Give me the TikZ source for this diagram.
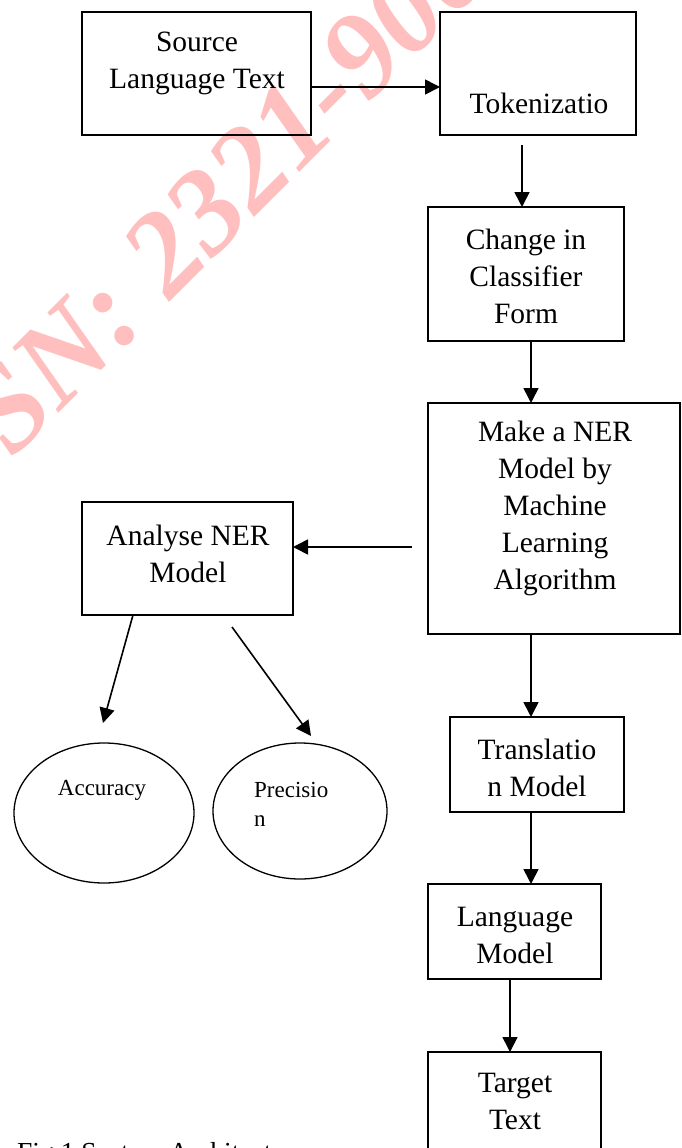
\documentclass[tikz,border=0pt]{standalone}
\usepackage{fontspec}
\setmainfont{Liberation Serif}
\usetikzlibrary{arrows.meta,shapes.geometric}
\begin{document}
\begin{tikzpicture}[x=1pt,y=-1pt,
  box/.style={draw,line width=1.9pt,inner sep=0pt,outer sep=0pt},
  lbl/.style={align=center,font=\fontsize{29.5}{37}\selectfont,inner sep=0pt},
  slbl/.style={align=left,font=\fontsize{23}{29}\selectfont,inner sep=0pt},
  oval/.style={draw,ellipse,line width=1.3pt,inner sep=0pt,outer sep=0pt},
  arr/.style={line width=1.6pt,-{Triangle[length=15pt,width=15pt]}},
  wm/.style={text=red!25,font=\fontsize{120}{120}\selectfont\bfseries\itshape,rotate=45,inner sep=0pt,anchor=base west}
]
\fill[white] (0,0) rectangle (682,1148);
\useasboundingbox (0,0) rectangle (682,1148);
\clip (0,0) rectangle (682,1148);

% watermark
\node[wm] (wm) at (-68,540) {ISSN: 2321-9009};

% boxes
\node[box,minimum width=229pt,minimum height=123pt] (src) at (196.5,73.5) {};
\node[box,minimum width=196pt,minimum height=123pt] (tok) at (538,73.5) {};
\node[box,minimum width=196pt,minimum height=134pt] (chg) at (526,274) {};
\node[box,minimum width=252pt,minimum height=231pt] (make) at (554,518.5) {};
\node[box,minimum width=211pt,minimum height=113pt] (ana) at (187.5,558.5) {};
\node[box,minimum width=174pt,minimum height=95pt] (trans) at (537,764.5) {};
\node[box,minimum width=173pt,minimum height=95pt] (lang) at (514.5,931.5) {};
\node[box,minimum width=173pt,minimum height=108pt] (tgt) at (514.5,1106) {};
\node[oval,minimum width=180pt,minimum height=140pt] (acc) at (104,813) {};
\node[oval,minimum width=174pt,minimum height=136pt] (pre) at (300,811) {};

% labels
\node[lbl] (srcL) at (197,63.5) {Source\\Language Text};
\node[lbl] (tokL) at (539,103) {Tokenizatio};
\node[lbl] (chgL) at (526,276.5) {Change in\\Classifier\\Form};
\node[lbl] (makeL) at (555,508) {Make a NER\\Model by\\Machine\\Learning\\Algorithm};
\node[lbl] (anaL) at (188,553.5) {Analyse NER\\Model};
\node[lbl] (transL) at (537,768) {Translatio\\n Model};
\node[lbl] (langL) at (515,935.5) {Language\\Model};
\node[lbl] (tgtL) at (515,1101.5) {Target\\Text};
\node[slbl] (accL) at (102,790) {Accuracy};
\node[slbl,anchor=west] (preL) at (254,804) {Precisio\\n};
\node[font=\fontsize{27.5}{30}\selectfont,inner sep=0pt,anchor=base west] (cap) at (17,1161) {Fig.1 System Architecture};

% connectors
\coordinate (rowA) at (0,87);
\draw[arr] (src.east |- rowA) -- (tok.west |- rowA);
\coordinate (t1) at (522,145);
\draw[arr] (t1) -- (t1 |- chg.north);
\coordinate (colB) at (531,0);
\draw[arr] (chg.south -| colB) -- (make.north -| colB);
\draw[arr] (make.south -| colB) -- (trans.north -| colB);
\draw[arr] (trans.south -| colB) -- (lang.north -| colB);
\coordinate (colC) at (510,0);
\draw[arr] (lang.south -| colC) -- (tgt.north -| colC);
\coordinate (m1) at (412,547);
\draw[arr] (m1) -- (m1 -| ana.east);
\coordinate (a1) at (133,0);
\coordinate (acTip) at (103,723);
\draw[arr] (ana.south -| a1) -- (acTip);
\coordinate (a2) at (232,627);
\coordinate (prTip) at (311,736);
\draw[arr] (a2) -- (prTip);
\end{tikzpicture}
\end{document}
